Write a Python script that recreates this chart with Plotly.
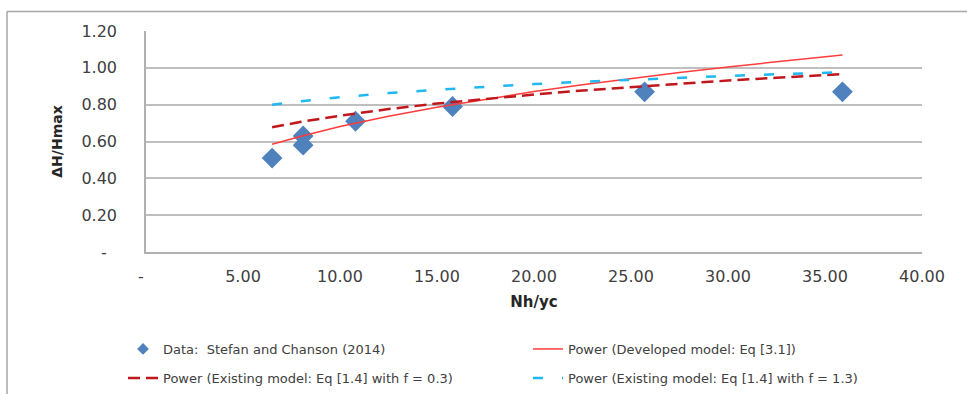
import plotly.graph_objects as go

# Measured data (Stefan and Chanson 2014)
data_x = [6.5, 8.1, 8.1, 10.8, 15.8, 25.7, 35.9]
data_y = [0.51, 0.58, 0.63, 0.71, 0.79, 0.87, 0.87]

# Trend lines
fit_x = [6.5, 8.0, 10.0, 12.5, 15.0, 17.5, 20.0, 22.5, 25.0, 27.5, 30.0, 32.5, 35.9]
developed_y = [0.585, 0.629, 0.681, 0.737, 0.786, 0.830, 0.871, 0.908, 0.942, 0.975, 1.005, 1.034, 1.070]
existing_f03_y = [0.677, 0.707, 0.740, 0.776, 0.806, 0.832, 0.855, 0.877, 0.896, 0.914, 0.931, 0.946, 0.966]
existing_f13_y = [0.799, 0.819, 0.840, 0.863, 0.881, 0.897, 0.912, 0.924, 0.936, 0.946, 0.956, 0.965, 0.976]

x_ticks = [0, 5, 10, 15, 20, 25, 30, 35, 40]
x_ticktext = ["-  ", "5.00", "10.00", "15.00", "20.00", "25.00", "30.00", "35.00", "40.00"]
y_ticks = [0, 0.2, 0.4, 0.6, 0.8, 1.0, 1.2]
y_ticktext = ["-  ", "0.20", "0.40", "0.60", "0.80", "1.00", "1.20"]

FONT = "DejaVu Sans"
BLUE = "#4F81BD"
fig = go.Figure()
fig.add_trace(go.Scatter(
    x=data_x, y=data_y, mode="markers", showlegend=False,
    marker=dict(symbol="diamond", size=16, color=BLUE),
))
# legend entry for the data (smaller symbol as in the reference legend)
fig.add_trace(go.Scatter(
    x=[None], y=[None], mode="markers", legend="legend",
    name="Data:  Stefan and Chanson (2014)",
    marker=dict(symbol="diamond", size=9, color=BLUE),
))
fig.add_trace(go.Scatter(
    x=fit_x, y=developed_y, mode="lines", legend="legend2",
    name="Power (Developed model: Eq [3.1])",
    line=dict(color="#FF3B3B", width=1.5),
))
fig.add_trace(go.Scatter(
    x=fit_x, y=existing_f03_y, mode="lines", legend="legend3",
    name="Power (Existing model: Eq [1.4] with f = 0.3)",
    line=dict(color="#C0171C", width=2.5, dash="12px,6px"),
))
fig.add_trace(go.Scatter(
    x=fit_x, y=existing_f13_y, mode="lines", legend="legend4",
    name="Power (Existing model: Eq [1.4] with f = 1.3)",
    line=dict(color="#1FB8F0", width=2.5, dash="10px,19px"),
))

W, H = 967, 394
L, R, T, B = 146, 922, 31, 252
pw, ph = R - L, B - T

def px(x):
    return (x - L) / pw

def py(y):
    return (B - y) / ph

def leg(xp, yp):
    return dict(
        orientation="h", xref="container", yref="container",
        x=xp / W, y=1 - yp / H, xanchor="left", yanchor="middle",
        font=dict(family=FONT, size=13, color="#404040"),
        bgcolor="rgba(0,0,0,0)", borderwidth=0, itemwidth=30,
    )

fig.update_layout(
    width=W, height=H,
    margin=dict(l=L, r=W - R, t=T, b=H - B),
    paper_bgcolor="white", plot_bgcolor="white",
    font=dict(family=FONT, size=13, color="#404040"),
    showlegend=True,
    legend=leg(123, 349),
    legend2=leg(528, 349),
    legend3=leg(123, 378),
    legend4=leg(528, 378),
    shapes=[
        dict(type="line", xref="paper", yref="paper", x0=px(7), x1=px(7), y0=py(11.5), y1=py(400),
             line=dict(color="#A6A6A6", width=1.5)),
        dict(type="line", xref="paper", yref="paper", x0=px(7), x1=px(975), y0=py(11.5), y1=py(11.5),
             line=dict(color="#A6A6A6", width=1.5)),
    ],
)
fig.update_xaxes(
    range=[0, 40], tickvals=x_ticks, ticktext=x_ticktext,
    showgrid=False, zeroline=False, showline=True, linecolor="#B0B0B0", linewidth=1.5,
    ticks="", ticklabelstandoff=9,
    tickfont=dict(family=FONT, size=16, color="#404040"),
    title=dict(text="<b>Nh/yc</b>", font=dict(family=FONT, size=15, color="#262626"), standoff=12),
)
fig.update_yaxes(
    range=[0, 1.2], tickvals=y_ticks, ticktext=y_ticktext,
    showgrid=True, gridcolor="#BFBFBF", gridwidth=1.5,
    zeroline=False, showline=True, linecolor="#B0B0B0", linewidth=1.5,
    ticks="", ticklabelstandoff=24,
    tickfont=dict(family=FONT, size=16, color="#404040"),
    title=dict(text="<b>ΔH/Hmax</b>", font=dict(family=FONT, size=14, color="#262626"), standoff=16),
)

fig.write_html("out.html")
